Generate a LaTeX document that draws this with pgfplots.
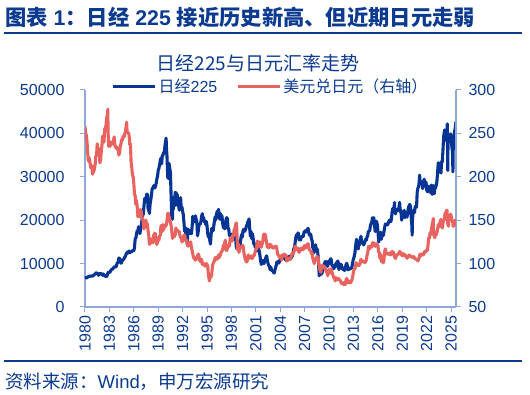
\documentclass[border=0pt]{standalone}
\usepackage{fontspec}
\setmainfont{Liberation Sans}
\newfontfamily\cjk{Noto Sans CJK SC}
\usepackage{pgfplots}
\pgfplotsset{compat=1.18}
\definecolor{navy}{HTML}{0B3A8F}
\definecolor{nk}{HTML}{063494}
\definecolor{fx}{HTML}{E8625F}
\definecolor{axc}{HTML}{8EA8DB}
\pgfplotsset{base/.style={scale only axis, width=371pt, height=217pt, at={(85pt,88pt)}, anchor=south west,
 xmin=1980, xmax=2025.6, axis line style={axc, line width=1.2pt}, tick style={axc, line width=1pt},
 tick align=outside, major tick length=5pt, minor tick num=0,
 ticklabel style={text=navy, font=\fontsize{16}{18}\selectfont},
 /pgf/number format/assume math mode=true, /pgf/number format/1000 sep={}, scaled y ticks=false}}
\begin{document}
\begin{tikzpicture}
\path (0pt,0pt) rectangle (530pt,395pt);
\node[anchor=west, text=navy, font=\fontsize{21.3}{24}\selectfont\bfseries, inner sep=0pt] at (5pt,378pt) {{\cjk 图表} 1{\cjk ：日经} 225 {\cjk 接近历史新高、但近期日元走弱}};
\draw[navy, line width=2.5pt] (4pt,362pt) -- (522pt,362pt);
\node[text=navy, font=\fontsize{19}{22}\selectfont\cjk, inner sep=0pt] at (258pt,332pt) {日经225与日元汇率走势};
\begin{axis}[base, ymin=0, ymax=50000, ytick={0,10000,...,50000}, axis y line*=left, axis x line*=bottom,
 yticklabel style={xshift=-12pt},
 xtick={1980,1983,...,2025}, xticklabel style={rotate=90, anchor=east}]
\addplot[nk, line width=3.1pt, line join=round] table[row sep=\\] {
1980.00 6720\\1980.08 6800\\1980.17 6680\\1980.25 6740\\1980.33 6930\\1980.42 6990\\1980.50 7150\\1980.58 7070\\1980.67 7120\\1980.75 7130\\1980.83 7180\\1980.92 7116\\
1981.00 7200\\1981.08 7350\\1981.17 7500\\1981.25 7600\\1981.33 7800\\1981.42 7900\\1981.50 7750\\1981.58 7600\\1981.67 7300\\1981.75 7600\\1981.83 7750\\1981.92 7682\\
1982.00 7700\\1982.08 7500\\1982.17 7300\\1982.25 7600\\1982.33 7350\\1982.42 7200\\1982.50 7100\\1982.58 7000\\1982.67 7100\\1982.75 7400\\1982.83 7900\\1982.92 8017\\
1983.00 8000\\1983.08 8050\\1983.17 8400\\1983.25 8600\\1983.33 8700\\1983.42 8800\\1983.50 9000\\1983.58 9200\\1983.67 9300\\1983.75 9200\\1983.83 9300\\1983.92 9894\\
1984.00 10200\\1984.08 10400\\1984.17 11300\\1984.25 11200\\1984.33 10400\\1984.42 10100\\1984.50 10200\\1984.58 10700\\1984.67 10900\\1984.75 11000\\1984.83 11300\\1984.92 11543\\
1985.00 11900\\1985.08 12200\\1985.17 12600\\1985.25 12400\\1985.33 12700\\1985.42 12900\\1985.50 12500\\1985.58 12700\\1985.67 12600\\1985.75 12800\\1985.83 12900\\1985.92 13113\\
1986.00 13000\\1986.08 13600\\1986.17 15800\\1986.25 15800\\1986.33 16800\\1986.42 17600\\1986.50 17400\\1986.58 18500\\1986.67 17900\\1986.75 16900\\1986.83 17900\\1986.92 18701\\
1987.00 20000\\1987.08 21000\\1987.17 21500\\1987.25 23300\\1987.33 25000\\1987.42 24200\\1987.50 24500\\1987.58 26000\\1987.67 26000\\1987.75 22700\\1987.83 22300\\1987.92 21564\\
1988.00 23700\\1988.08 24600\\1988.17 25800\\1988.25 27200\\1988.33 27400\\1988.42 27800\\1988.50 28000\\1988.58 27400\\1988.67 27900\\1988.75 28500\\1988.83 29500\\1988.92 30159\\
1989.00 31500\\1989.08 31900\\1989.17 32800\\1989.25 33700\\1989.33 34300\\1989.42 33000\\1989.50 34900\\1989.58 35000\\1989.67 35600\\1989.75 35500\\1989.83 37200\\1989.97 38916\\
1990.00 37200\\1990.08 34600\\1990.17 29900\\1990.25 29600\\1990.33 33100\\1990.42 31900\\1990.50 31000\\1990.58 25900\\1990.67 20900\\1990.75 20200\\1990.79 25200\\1990.83 22400\\1990.92 23849\\
1991.00 23300\\1991.08 26400\\1991.17 26300\\1991.25 26100\\1991.33 25800\\1991.42 23300\\1991.50 23900\\1991.58 22300\\1991.67 23900\\1991.75 25200\\1991.83 22700\\1991.92 22984\\
1992.00 22000\\1992.08 21300\\1992.17 19300\\1992.25 17400\\1992.33 18300\\1992.42 16000\\1992.50 15900\\1992.58 14300\\1992.62 18000\\1992.67 17400\\1992.75 16800\\1992.83 17700\\1992.92 16925\\
1993.00 17000\\1993.08 16900\\1993.17 18600\\1993.25 20900\\1993.33 20500\\1993.42 19600\\1993.50 20400\\1993.58 21000\\1993.67 20100\\1993.75 19700\\1993.83 16400\\1993.92 17417\\
1994.00 18700\\1994.08 19100\\1994.17 19100\\1994.25 19700\\1994.33 20900\\1994.42 21500\\1994.50 20400\\1994.58 20600\\1994.67 19600\\1994.75 19900\\1994.83 19000\\1994.92 19723\\
1995.00 18600\\1995.08 17000\\1995.17 16100\\1995.25 16800\\1995.33 15400\\1995.42 14500\\1995.50 16700\\1995.58 18100\\1995.67 17900\\1995.75 17600\\1995.83 18700\\1995.92 19868\\
1996.00 20800\\1996.08 20100\\1996.17 21400\\1996.25 22000\\1996.33 21900\\1996.42 22500\\1996.50 20700\\1996.58 20200\\1996.67 21500\\1996.75 20500\\1996.83 21000\\1996.92 19361\\
1997.00 18300\\1997.08 18600\\1997.17 18000\\1997.25 19200\\1997.33 20100\\1997.42 20600\\1997.50 20300\\1997.58 18200\\1997.67 17900\\1997.75 16500\\1997.83 16600\\1997.92 15259\\
1998.00 16600\\1998.08 16800\\1998.17 16500\\1998.25 15600\\1998.33 15700\\1998.42 15800\\1998.50 16400\\1998.58 14100\\1998.67 13400\\1998.75 13600\\1998.83 14900\\1998.92 13842\\
1999.00 14500\\1999.08 14400\\1999.17 16000\\1999.25 16700\\1999.33 16100\\1999.42 17500\\1999.50 17900\\1999.58 17400\\1999.67 17600\\1999.75 17900\\1999.83 18600\\1999.92 18934\\
2000.00 19500\\2000.08 19900\\2000.17 20300\\2000.25 17900\\2000.33 16300\\2000.42 17400\\2000.50 15700\\2000.58 16900\\2000.67 15700\\2000.75 14500\\2000.83 14600\\2000.92 13786\\
2001.00 13800\\2001.08 12900\\2001.17 13000\\2001.25 13900\\2001.33 13300\\2001.42 12900\\2001.50 11900\\2001.58 10700\\2001.67 9800\\2001.75 10400\\2001.83 10700\\2001.92 10543\\
2002.00 9990\\2002.08 10600\\2002.17 11000\\2002.25 11500\\2002.33 11800\\2002.42 10600\\2002.50 10000\\2002.58 9600\\2002.67 9400\\2002.75 8600\\2002.83 9200\\2002.92 8579\\
2003.00 8340\\2003.08 8360\\2003.17 7970\\2003.25 7830\\2003.33 8420\\2003.42 9080\\2003.50 9560\\2003.58 10340\\2003.67 10220\\2003.75 10560\\2003.83 10100\\2003.92 10677\\
2004.00 10780\\2004.08 11040\\2004.17 11720\\2004.25 11760\\2004.33 11240\\2004.42 11860\\2004.50 11330\\2004.58 11080\\2004.67 10820\\2004.75 10770\\2004.83 10900\\2004.92 11489\\
2005.00 11390\\2005.08 11740\\2005.17 11670\\2005.25 11010\\2005.33 11280\\2005.42 11580\\2005.50 11900\\2005.58 12410\\2005.67 13570\\2005.75 13600\\2005.83 14870\\2005.92 16111\\
2006.00 16650\\2006.08 16200\\2006.17 17060\\2006.25 16900\\2006.33 15470\\2006.42 15500\\2006.50 15460\\2006.58 16140\\2006.67 16130\\2006.75 16400\\2006.83 16270\\2006.92 17226\\
2007.00 17380\\2007.08 17600\\2007.17 17290\\2007.25 17400\\2007.33 17880\\2007.42 18140\\2007.50 17250\\2007.58 16570\\2007.67 16790\\2007.75 16740\\2007.83 15680\\2007.92 15308\\
2008.00 13590\\2008.08 13600\\2008.17 12530\\2008.25 13850\\2008.33 14340\\2008.42 13480\\2008.50 13380\\2008.58 13070\\2008.67 11260\\2008.75 8580\\2008.79 7160\\2008.83 8510\\2008.92 8860\\
2009.00 7990\\2009.08 7570\\2009.17 8110\\2009.25 8830\\2009.33 9520\\2009.42 9960\\2009.50 10360\\2009.58 10490\\2009.67 10130\\2009.75 10030\\2009.83 9350\\2009.92 10546\\
2010.00 10200\\2010.08 10130\\2010.17 11090\\2010.25 11060\\2010.33 9770\\2010.42 9380\\2010.50 9540\\2010.58 8820\\2010.67 9370\\2010.75 9200\\2010.83 9940\\2010.92 10229\\
2011.00 10240\\2011.08 10620\\2011.17 9760\\2011.20 8600\\2011.25 9850\\2011.33 9690\\2011.42 9820\\2011.50 9830\\2011.58 8960\\2011.67 8700\\2011.75 8990\\2011.83 8430\\2011.92 8455\\
2012.00 8800\\2012.08 9720\\2012.17 10080\\2012.25 9520\\2012.33 8540\\2012.42 9010\\2012.50 8700\\2012.58 8840\\2012.67 8870\\2012.75 8930\\2012.83 9450\\2012.92 10395\\
2013.00 11140\\2013.08 11560\\2013.17 12400\\2013.25 13860\\2013.37 15600\\2013.42 13680\\2013.50 13670\\2013.58 13390\\2013.67 14460\\2013.75 14330\\2013.83 15660\\2013.92 16291\\
2014.00 14910\\2014.08 14840\\2014.17 14830\\2014.25 14300\\2014.33 14630\\2014.42 15160\\2014.50 15620\\2014.58 15420\\2014.67 16170\\2014.75 16410\\2014.83 17460\\2014.92 17451\\
2015.00 17670\\2015.08 18800\\2015.17 19200\\2015.25 19520\\2015.33 20560\\2015.42 20240\\2015.50 20590\\2015.58 18890\\2015.67 17390\\2015.75 19080\\2015.83 19750\\2015.92 19034\\
2016.00 17520\\2016.11 14950\\2016.17 16760\\2016.25 16670\\2016.33 17230\\2016.42 15580\\2016.50 16570\\2016.58 16890\\2016.67 16450\\2016.75 17430\\2016.83 18310\\2016.92 19114\\
2017.00 19040\\2017.08 19120\\2017.17 18910\\2017.25 19200\\2017.33 19650\\2017.42 20030\\2017.50 19930\\2017.58 19650\\2017.67 20360\\2017.75 22010\\2017.83 22720\\2017.92 22765\\
2018.00 23100\\2018.04 24100\\2018.08 22070\\2018.17 21450\\2018.25 22470\\2018.33 22200\\2018.42 22300\\2018.50 22550\\2018.58 22870\\2018.67 24120\\2018.75 21920\\2018.83 22350\\2018.92 20015\\
2019.00 20770\\2019.08 21390\\2019.17 21210\\2019.25 22260\\2019.33 20600\\2019.42 21280\\2019.50 21520\\2019.58 20700\\2019.67 21760\\2019.75 22930\\2019.83 23290\\2019.92 23657\\
2020.00 23200\\2020.08 21140\\2020.17 18920\\2020.21 16550\\2020.25 20190\\2020.33 21880\\2020.42 22290\\2020.50 21710\\2020.58 23140\\2020.67 23190\\2020.75 22980\\2020.83 26430\\2020.92 27444\\
2021.00 27660\\2021.08 28970\\2021.13 30400\\2021.17 29180\\2021.25 28810\\2021.33 28860\\2021.42 28790\\2021.50 27280\\2021.58 28090\\2021.67 29450\\2021.75 28890\\2021.83 27820\\2021.92 28792\\
2022.00 27000\\2022.08 26530\\2022.17 27820\\2022.25 26850\\2022.33 27280\\2022.42 26390\\2022.50 27800\\2022.58 28090\\2022.67 25940\\2022.75 27590\\2022.83 27970\\2022.92 26095\\
2023.00 27330\\2023.08 27450\\2023.17 28040\\2023.25 28860\\2023.33 30890\\2023.42 33190\\2023.50 33170\\2023.58 32620\\2023.67 31860\\2023.75 30860\\2023.83 33490\\2023.92 33464\\
2024.00 36290\\2024.08 39170\\2024.17 40370\\2024.20 40800\\2024.25 38410\\2024.33 38490\\2024.42 39580\\2024.50 40500\\2024.53 42200\\2024.59 31458\\2024.62 38650\\2024.67 37920\\2024.75 39080\\2024.83 38210\\2024.92 39895\\
2025.00 39572\\2025.08 37156\\2025.17 35618\\2025.22 31136\\2025.25 36045\\2025.33 37965\\2025.42 40487\\2025.50 41070\\2025.58 42700\\
};
\end{axis}
\begin{axis}[base, ymin=50, ymax=300, ytick={50,100,...,300}, axis y line*=right, axis x line=none,
 yticklabel style={xshift=4pt},
 legend columns=2, legend cell align=left,
 legend style={draw=none, fill=none, at={(0.5,1.018)}, anchor=center, font=\fontsize{16}{18}\selectfont, text=navy, inner sep=0pt,
   /tikz/every even column/.append style={column sep=17pt}},
 legend image code/.code={\draw[#1] (0pt,0pt) -- (42pt,0pt);}]
\addlegendimage{nk, line width=3pt}
\addlegendentry{{\cjk 日经}225}
\addplot[fx, line width=3.1pt, line join=round] table[row sep=\\] {
1980.00 258\\1980.08 250\\1980.17 248\\1980.25 240\\1980.33 228\\1980.42 218\\1980.50 222\\1980.58 219\\1980.67 212\\1980.75 210\\1980.83 213\\1980.92 203\\
1981.00 205\\1981.08 206\\1981.17 210\\1981.25 214\\1981.33 224\\1981.42 224\\1981.50 238\\1981.58 232\\1981.67 232\\1981.75 232\\1981.83 216\\1981.92 220\\
1982.00 229\\1982.08 236\\1982.17 247\\1982.25 242\\1982.33 240\\1982.42 255\\1982.50 256\\1982.58 259\\1982.67 269\\1982.75 271\\1982.81 278\\1982.83 252\\1982.92 235\\
1983.00 241\\1983.08 235\\1983.17 240\\1983.25 237\\1983.33 240\\1983.42 240\\1983.50 241\\1983.58 246\\1983.67 236\\1983.75 234\\1983.83 235\\1983.92 232\\
1984.00 233\\1984.08 232\\1984.17 225\\1984.25 228\\1984.33 235\\1984.42 238\\1984.50 243\\1984.58 242\\1984.67 246\\1984.75 247\\1984.83 246\\1984.92 251\\
1985.00 254\\1985.08 260\\1985.12 263\\1985.17 252\\1985.25 251\\1985.33 251\\1985.42 248\\1985.50 237\\1985.58 238\\1985.67 216\\1985.75 211\\1985.83 202\\1985.92 200\\
1986.00 192\\1986.08 180\\1986.17 178\\1986.25 168\\1986.33 173\\1986.42 165\\1986.50 154\\1986.58 155\\1986.67 154\\1986.75 162\\1986.83 162\\1986.92 160\\
1987.00 153\\1987.08 153\\1987.17 146\\1987.25 140\\1987.33 144\\1987.42 147\\1987.50 150\\1987.58 142\\1987.67 146\\1987.75 138\\1987.83 133\\1987.92 122\\
1988.00 128\\1988.08 128\\1988.17 124\\1988.25 125\\1988.33 124\\1988.42 133\\1988.50 133\\1988.58 135\\1988.67 134\\1988.75 125\\1988.83 122\\1988.92 125\\
1989.00 129\\1989.08 127\\1989.17 132\\1989.25 132\\1989.33 143\\1989.42 144\\1989.50 137\\1989.58 145\\1989.67 139\\1989.75 143\\1989.83 144\\1989.92 143\\
1990.00 145\\1990.08 150\\1990.17 158\\1990.25 158\\1990.33 152\\1990.42 152\\1990.50 147\\1990.58 144\\1990.67 137\\1990.75 129\\1990.83 133\\1990.92 134\\
1991.00 131\\1991.08 133\\1991.17 141\\1991.25 137\\1991.33 138\\1991.42 138\\1991.50 137\\1991.58 137\\1991.67 132\\1991.75 130\\1991.83 130\\1991.92 125\\
1992.00 126\\1992.08 129\\1992.17 133\\1992.25 133\\1992.33 128\\1992.42 126\\1992.50 127\\1992.58 123\\1992.67 120\\1992.75 123\\1992.83 124\\1992.92 124\\
1993.00 125\\1993.08 118\\1993.17 115\\1993.25 111\\1993.33 107\\1993.42 106\\1993.50 105\\1993.58 104\\1993.67 106\\1993.75 108\\1993.83 109\\1993.92 111\\
1994.00 109\\1994.08 104\\1994.17 103\\1994.25 102\\1994.33 105\\1994.42 99\\1994.50 100\\1994.58 100\\1994.67 99\\1994.75 97\\1994.83 99\\1994.92 100\\
1995.00 99\\1995.08 97\\1995.17 87\\1995.29 80\\1995.33 84\\1995.42 84\\1995.50 85\\1995.58 88\\1995.67 98\\1995.75 100\\1995.83 102\\1995.92 103\\
1996.00 107\\1996.08 105\\1996.17 107\\1996.25 105\\1996.33 108\\1996.42 110\\1996.50 107\\1996.58 109\\1996.67 111\\1996.75 114\\1996.83 114\\1996.92 116\\
1997.00 121\\1997.08 120\\1997.17 124\\1997.25 127\\1997.33 116\\1997.42 115\\1997.50 118\\1997.58 121\\1997.67 121\\1997.75 120\\1997.83 128\\1997.92 130\\
1998.00 127\\1998.08 126\\1998.17 133\\1998.25 132\\1998.33 139\\1998.42 140\\1998.50 144\\1998.60 147\\1998.67 136\\1998.75 116\\1998.83 123\\1998.92 113\\
1999.00 116\\1999.08 119\\1999.17 119\\1999.25 119\\1999.33 121\\1999.42 121\\1999.50 115\\1999.58 110\\1999.67 106\\1999.75 104\\1999.83 102\\1999.92 102\\
2000.00 107\\2000.08 110\\2000.17 106\\2000.25 108\\2000.33 107\\2000.42 106\\2000.50 109\\2000.58 106\\2000.67 108\\2000.75 109\\2000.83 110\\2000.92 114\\
2001.00 116\\2001.08 117\\2001.17 126\\2001.25 124\\2001.33 119\\2001.42 125\\2001.50 125\\2001.58 119\\2001.67 119\\2001.75 122\\2001.83 124\\2001.92 131\\
2002.00 134\\2002.08 134\\2002.17 133\\2002.25 128\\2002.33 124\\2002.42 119\\2002.50 120\\2002.58 118\\2002.67 122\\2002.75 122\\2002.83 122\\2002.92 119\\
2003.00 120\\2003.08 118\\2003.17 118\\2003.25 119\\2003.33 119\\2003.42 120\\2003.50 120\\2003.58 117\\2003.67 111\\2003.75 110\\2003.83 109\\2003.92 107\\
2004.00 106\\2004.08 109\\2004.17 104\\2004.25 110\\2004.33 109\\2004.42 109\\2004.50 111\\2004.58 110\\2004.67 110\\2004.75 106\\2004.83 103\\2004.92 104\\
2005.00 104\\2005.08 105\\2005.17 107\\2005.25 105\\2005.33 108\\2005.42 111\\2005.50 112\\2005.58 111\\2005.67 113\\2005.75 116\\2005.83 120\\2005.92 118\\
2006.00 117\\2006.08 116\\2006.17 118\\2006.25 114\\2006.33 113\\2006.42 115\\2006.50 115\\2006.58 118\\2006.67 118\\2006.75 117\\2006.83 116\\2006.92 119\\
2007.00 121\\2007.08 118\\2007.17 118\\2007.25 120\\2007.33 122\\2007.42 123\\2007.50 119\\2007.58 116\\2007.67 115\\2007.75 115\\2007.83 111\\2007.92 112\\
2008.00 106\\2008.08 104\\2008.17 100\\2008.25 104\\2008.33 105\\2008.42 106\\2008.50 108\\2008.58 108\\2008.67 106\\2008.75 98\\2008.83 95\\2008.92 91\\
2009.00 90\\2009.08 98\\2009.17 98\\2009.25 98\\2009.33 95\\2009.42 96\\2009.50 95\\2009.58 93\\2009.67 90\\2009.75 91\\2009.83 86\\2009.92 93\\
2010.00 90\\2010.08 89\\2010.17 93\\2010.25 94\\2010.33 91\\2010.42 88\\2010.50 86\\2010.58 84\\2010.67 83\\2010.75 80\\2010.83 84\\2010.92 81\\
2011.00 82\\2011.08 82\\2011.17 83\\2011.25 81\\2011.33 81\\2011.42 80\\2011.50 77\\2011.58 77\\2011.67 77\\2011.75 78\\2011.81 75.5\\2011.83 78\\2011.92 77\\
2012.00 76\\2012.08 81\\2012.17 83\\2012.25 80\\2012.33 78\\2012.42 80\\2012.50 78\\2012.58 78\\2012.67 78\\2012.75 80\\2012.83 82\\2012.92 86\\
2013.00 91\\2013.08 93\\2013.17 94\\2013.25 97\\2013.33 101\\2013.42 99\\2013.50 98\\2013.58 98\\2013.67 98\\2013.75 98\\2013.83 102\\2013.92 105\\
2014.00 102\\2014.08 102\\2014.17 103\\2014.25 102\\2014.33 102\\2014.42 101\\2014.50 103\\2014.58 104\\2014.67 110\\2014.75 112\\2014.83 119\\2014.92 120\\
2015.00 117\\2015.08 120\\2015.17 120\\2015.25 119\\2015.33 124\\2015.42 122\\2015.50 124\\2015.58 121\\2015.67 120\\2015.75 121\\2015.83 123\\2015.92 120\\
2016.00 121\\2016.08 113\\2016.17 113\\2016.25 106\\2016.33 111\\2016.42 103\\2016.50 102\\2016.58 103\\2016.67 101\\2016.75 105\\2016.83 114\\2016.92 117\\
2017.00 113\\2017.08 112\\2017.17 111\\2017.25 111\\2017.33 111\\2017.42 112\\2017.50 110\\2017.58 110\\2017.67 113\\2017.75 114\\2017.83 112\\2017.92 113\\
2018.00 109\\2018.08 107\\2018.17 106\\2018.25 109\\2018.33 109\\2018.42 111\\2018.50 111\\2018.58 111\\2018.67 114\\2018.75 113\\2018.83 113\\2018.92 110\\
2019.00 109\\2019.08 111\\2019.17 111\\2019.25 111\\2019.33 109\\2019.42 108\\2019.50 109\\2019.58 106\\2019.67 108\\2019.75 108\\2019.83 110\\2019.92 109\\
2020.00 108\\2020.08 108\\2020.17 108\\2020.25 107\\2020.33 108\\2020.42 108\\2020.50 106\\2020.58 106\\2020.67 105\\2020.75 105\\2020.83 104\\2020.92 103\\
2021.00 105\\2021.08 107\\2021.17 111\\2021.25 109\\2021.33 110\\2021.42 111\\2021.50 110\\2021.58 110\\2021.67 112\\2021.75 114\\2021.83 113\\2021.92 115\\
2022.00 115\\2022.08 115\\2022.17 122\\2022.25 130\\2022.33 129\\2022.42 136\\2022.50 133\\2022.58 139\\2022.67 145\\2022.75 148\\2022.80 151.9\\2022.83 138\\2022.92 131\\
2023.00 130\\2023.08 136\\2023.17 133\\2023.25 136\\2023.33 139\\2023.42 145\\2023.50 142\\2023.58 145\\2023.67 149\\2023.75 151\\2023.83 148\\2023.92 141\\
2024.00 147\\2024.08 150\\2024.17 151\\2024.25 158\\2024.33 157\\2024.42 161\\2024.50 161.5\\2024.54 150\\2024.58 146\\2024.67 143\\2024.75 153\\2024.83 150\\2024.92 157\\
2025.00 155\\2025.08 150\\2025.17 150\\2025.25 143\\2025.33 144\\2025.42 144\\2025.50 150\\2025.58 147\\
};
\addlegendentry{{\cjk 美元兑日元（右轴）}}
\end{axis}
\draw[navy, line width=2pt] (4pt,34pt) -- (522pt,34pt);
\node[anchor=west, text=navy, font=\fontsize{18.5}{20}\selectfont, inner sep=0pt] at (5pt,13pt) {{\cjk 资料来源：}Wind{\cjk ，申万宏源研究}};
\end{tikzpicture}
\end{document}
